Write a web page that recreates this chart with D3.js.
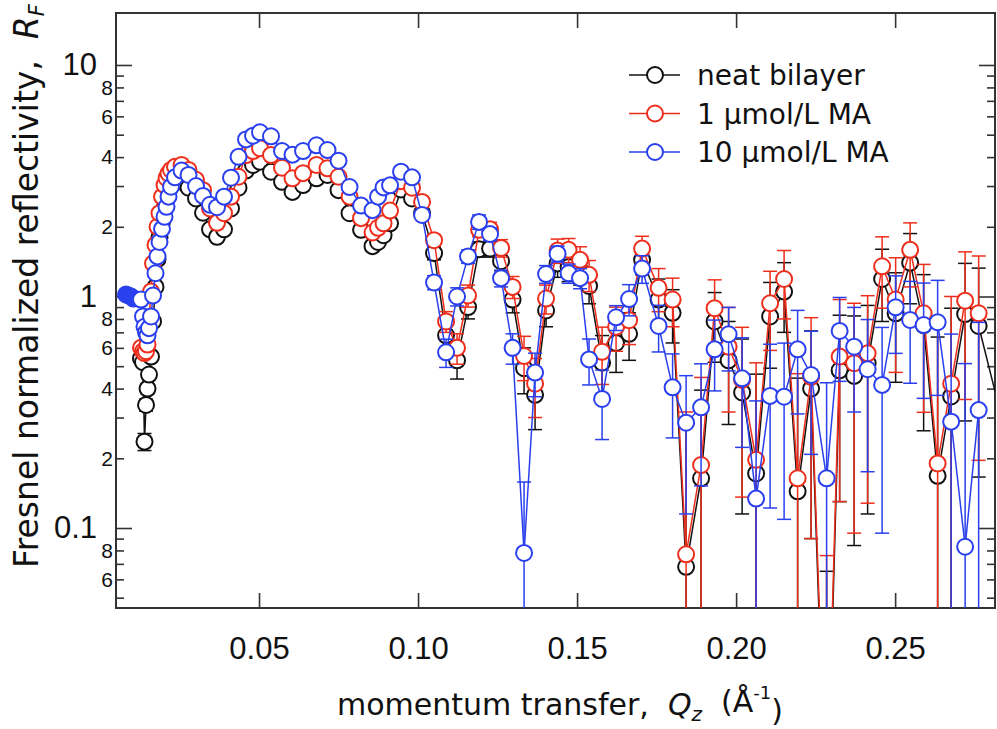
<!DOCTYPE html>
<meta charset="utf-8">
<script src="https://d3js.org/d3.v7.min.js"></script>

<style>
body { margin: 0; background: #fff; }
svg { display: block; font-family: 'DejaVu Sans', sans-serif; }
text { fill: #111; white-space: pre; }
.tick line { stroke: #333; stroke-width: 1.6; }
.frame { fill: none; stroke: #333; stroke-width: 2; }
.major text { font-size: 31px; }
.minor text { font-size: 21px; }
.xaxis text { font-size: 31px; }
.ytitle { font-size: 33px; }
.xtitle { font-size: 30px; }
.legend text { font-size: 28px; }
</style>

<svg width="997" height="729"></svg>

<script>
// momentum transfer Qz (1/A), shared grid for the three curves
const qz = [0.01289, 0.01352, 0.01399, 0.01447, 0.01494, 0.01541, 0.01604, 0.01667, 0.01745, 0.01808,
  0.01871, 0.01950, 0.02028, 0.02091, 0.02154, 0.02233, 0.02358, 0.02563, 0.02783, 0.03019,
  0.03239, 0.03459, 0.03679, 0.03899, 0.04119, 0.04355, 0.04591, 0.04811, 0.05031, 0.05377,
  0.05723, 0.06053, 0.06384, 0.06808, 0.07154, 0.07500, 0.07846, 0.08208, 0.08569, 0.08742,
  0.08915, 0.09119, 0.09465, 0.09811, 0.10126, 0.10503, 0.10881, 0.11226, 0.11572, 0.11918,
  0.12264, 0.12610, 0.12972, 0.13333, 0.13679, 0.14025, 0.14387, 0.14733, 0.15094, 0.15377,
  0.15786, 0.16226, 0.16635, 0.17044, 0.17563, 0.18003, 0.18428, 0.18899, 0.19324, 0.19764,
  0.20189, 0.20629, 0.21069, 0.21509, 0.21934, 0.22358, 0.22846, 0.23255, 0.23711, 0.24135,
  0.24591, 0.25016, 0.25472, 0.25896, 0.26336, 0.26761, 0.27201, 0.27626, 0.28460];

// neat bilayer
const rNeat = [0.54, 0.52, 0.236, 0.34, 0.40, 0.46, 0.55, 0.78, 1.10, 1.45,
  1.80, 2.10, 2.40, 2.65, 2.85, 3.00, 3.10, 3.15, 2.95, 2.65,
  2.30, 1.95, 1.81, 1.95, 2.40, 2.95, 3.50, 3.70, 3.82, 3.46,
  3.13, 2.83, 3.03, 3.24, 3.35, 2.88, 2.29, 1.94, 1.65, 1.72,
  1.84, 2.07, 2.90, 2.65, 2.30, 1.54, 0.68, 0.53, 0.90, 1.60,
  1.61, 1.42, 0.97, 0.49, 0.376, 0.87, 1.39, 1.34, 1.30, 1.11,
  0.518, 0.63, 0.69, 1.44, 0.97, 0.85, 0.068, 0.164, 0.78, 0.53,
  0.385, 0.172, 0.82, 1.05, 0.144, 0.40, 0.005, 0.48, 0.454, 0.515,
  1.19, 0.846, 1.40, 0.753, 0.168, 0.37, 0.84, 0.746, 0.26];
const eNeat = [0.02, 0.02, 0.02, 0.02, 0.02, 0.02, 0.02, 0.03, 0.03, 0.03,
  0.04, 0.04, 0.05, 0.05, 0.05, 0.05, 0.06, 0.06, 0.06, 0.06,
  0.06, 0.06, 0.06, 0.06, 0.06, 0.07, 0.07, 0.07, 0.08, 0.07,
  0.07, 0.07, 0.07, 0.08, 0.08, 0.08, 0.07, 0.07, 0.08, 0.08,
  0.08, 0.08, 0.10, 0.10, 0.10, 0.10, 0.08, 0.09, 0.10, 0.12,
  0.13, 0.13, 0.12, 0.11, 0.11, 0.13, 0.18, 0.18, 0.18, 0.18,
  0.16, 0.16, 0.16, 0.20, 0.22, 0.22, 0.22, 0.23, 0.26, 0.25,
  0.27, 0.29, 0.33, 0.35, 0.30, 0.31, 0.06, 0.35, 0.37, 0.40,
  0.41, 0.42, 0.47, 0.49, 0.50, 0.52, 0.55, 0.58, 0.60];

// 1 umol/L MA
const rMA1 = [0.60, 0.58, 0.57, 0.58, 0.62, 0.80, 1.05, 1.39, 1.67, 2.00,
  2.29, 2.70, 3.03, 3.25, 3.40, 3.52, 3.63, 3.70, 3.52, 3.19,
  2.88, 2.40, 2.08, 2.29, 2.70, 3.29, 4.08, 4.25, 4.37, 4.08,
  3.60, 3.24, 3.41, 3.70, 3.58, 3.29, 2.70, 2.18, 1.89, 1.98,
  2.07, 2.35, 3.15, 2.95, 2.56, 1.75, 0.78, 0.60, 1.01, 1.94,
  1.95, 1.62, 1.10, 0.553, 0.42, 0.98, 1.58, 1.59, 1.44, 1.24,
  0.577, 0.74, 0.79, 1.61, 1.09, 0.97, 0.077, 0.187, 0.89, 0.607,
  0.436, 0.197, 0.935, 1.19, 0.164, 0.45, 0.006, 0.55, 0.515, 0.568,
  1.35, 0.97, 1.59, 0.846, 0.19, 0.42, 0.959, 0.846, null];
const eMA1 = [0.02, 0.02, 0.02, 0.02, 0.02, 0.02, 0.03, 0.03, 0.03, 0.04,
  0.04, 0.05, 0.05, 0.05, 0.06, 0.06, 0.06, 0.06, 0.06, 0.06,
  0.06, 0.06, 0.06, 0.06, 0.06, 0.07, 0.07, 0.08, 0.08, 0.08,
  0.08, 0.07, 0.07, 0.08, 0.08, 0.08, 0.08, 0.07, 0.08, 0.08,
  0.08, 0.09, 0.10, 0.10, 0.10, 0.10, 0.08, 0.09, 0.11, 0.13,
  0.14, 0.14, 0.12, 0.12, 0.12, 0.14, 0.19, 0.19, 0.20, 0.19,
  0.16, 0.16, 0.17, 0.21, 0.23, 0.23, 0.24, 0.26, 0.29, 0.29,
  0.30, 0.32, 0.35, 0.39, 0.30, 0.36, 0.07, 0.42, 0.42, 0.44,
  0.46, 0.50, 0.49, 0.53, 0.55, 0.58, 0.60, 0.65, null];

// 10 umol/L MA
const rMA10 = [0.97, 0.82, 0.74, 0.70, 0.68, 0.73, 0.82, 1.01, 1.26, 1.49,
  1.72, 1.96, 2.21, 2.44, 2.70, 2.98, 3.27, 3.50, 3.35, 3.00,
  2.72, 2.49, 2.43, 2.70, 3.26, 4.01, 4.77, 4.95, 5.12, 4.92,
  4.25, 4.10, 4.25, 4.50, 4.29, 3.86, 2.97, 2.47, 2.36, 2.70,
  2.96, 3.02, 3.46, 3.27, 2.25, 1.15, 0.574, 1.00, 1.49, 2.10,
  1.86, 1.20, 0.60, 0.078, 0.469, 1.25, 1.53, 1.26, 1.20, 0.535,
  0.361, 0.813, 0.975, 1.32, 0.746, 0.405, 0.285, 0.332, 0.591, 0.687,
  0.443, 0.134, 0.372, 0.369, 0.591, 0.458, 0.164, 0.71, 0.607, 0.485,
  0.415, 0.898, 0.792, 0.753, 0.774, 0.288, 0.083, 0.323, null];
const eMA10 = [0.02, 0.02, 0.02, 0.02, 0.02, 0.02, 0.02, 0.03, 0.03, 0.03,
  0.04, 0.04, 0.05, 0.05, 0.05, 0.06, 0.06, 0.06, 0.06, 0.06,
  0.06, 0.06, 0.06, 0.06, 0.07, 0.07, 0.08, 0.08, 0.08, 0.08,
  0.08, 0.08, 0.08, 0.08, 0.08, 0.08, 0.08, 0.07, 0.07, 0.08,
  0.08, 0.08, 0.09, 0.09, 0.08, 0.08, 0.08, 0.09, 0.10, 0.15,
  0.12, 0.10, 0.09, 0.08, 0.10, 0.11, 0.12, 0.12, 0.12, 0.12,
  0.12, 0.10, 0.15, 0.18, 0.17, 0.16, 0.17, 0.18, 0.20, 0.21,
  0.22, 0.22, 0.25, 0.26, 0.28, 0.25, 0.26, 0.28, 0.29, 0.31,
  0.32, 0.33, 0.37, 0.39, 0.40, 0.40, 0.43, 0.45, null];

// filled points below the critical edge (10 umol/L MA)
const qzFilled = [0.00818, 0.00896, 0.00975, 0.01053];
const rFilled = [1.02, 1.01, 1.00, 0.98];

const seriesNames = ['neat bilayer', '1 \u03bcmol/L MA', '10 \u03bcmol/L MA'];
const seriesColors = ['#111111', '#ee2e1c', '#2a40ee'];

const majorTicks = [0.1, 1, 10];
const majorLabels = ['0.1', '1', '10'];
const minorTicks = [0.05, 0.06, 0.07, 0.08, 0.09, 0.2, 0.3, 0.4, 0.5, 0.6, 0.7, 0.8, 0.9,
  2, 3, 4, 5, 6, 7, 8, 9];
const minorLabels = ['', '6', '', '8', '', '2', '', '4', '', '6', '', '8', '',
  '2', '', '4', '', '6', '', '8', ''];
const xTicks = [0.05, 0.10, 0.15, 0.20, 0.25];
const xLabels = ['0.05', '0.10', '0.15', '0.20', '0.25'];

const svg = d3.select('svg');
const pLeft = 116, pRight = 995, pTop = 13, pBottom = 608;

const x = d3.scaleLinear().domain([0.00503, 0.2814]).range([pLeft, pRight]);
const y = d3.scaleLog().domain([0.04513, 16.77]).range([pBottom, pTop]);

svg.append('clipPath').attr('id', 'plotclip')
  .append('rect')
  .attr('x', pLeft).attr('y', pTop)
  .attr('width', pRight - pLeft).attr('height', pBottom - pTop);

// axes, ticks pointing inward
function yAxes(values, labels, size, pad, cls) {
  svg.append('g').attr('class', cls)
    .attr('transform', `translate(${pLeft},0)`)
    .call(d3.axisLeft(y).tickValues(values).tickSize(-size).tickPadding(pad)
      .tickFormat((d, i) => labels[i]))
    .call(g => g.select('.domain').remove());
  svg.append('g').attr('class', cls)
    .attr('transform', `translate(${pRight},0)`)
    .call(d3.axisRight(y).tickValues(values).tickSize(-size).tickFormat(''))
    .call(g => g.select('.domain').remove());
}
yAxes(minorTicks, minorLabels, 8, 3, 'minor');
yAxes(majorTicks, majorLabels, 16, 19, 'major');

svg.append('g').attr('class', 'xaxis')
  .attr('transform', `translate(0,${pBottom})`)
  .call(d3.axisBottom(x).tickValues(xTicks).tickSize(-15).tickPadding(29)
    .tickFormat((d, i) => xLabels[i]))
  .call(g => g.select('.domain').remove());

svg.append('g').attr('class', 'xaxis')
  .attr('transform', `translate(0,${pTop})`)
  .call(d3.axisTop(x).tickValues(xTicks).tickSize(-15).tickFormat(''))
  .call(g => g.select('.domain').remove());

svg.selectAll('.tick text').attr('fill', '#111');

svg.append('rect').attr('class', 'frame')
  .attr('x', pLeft).attr('y', pTop)
  .attr('width', pRight - pLeft).attr('height', pBottom - pTop);

// data
const allR = [rNeat, rMA1, rMA10];
const allE = [eNeat, eMA1, eMA10];
const plot = svg.append('g').attr('clip-path', 'url(#plotclip)');

const line = d3.line()
  .defined(d => d.r != null)
  .x(d => x(d.q))
  .y(d => y(d.r));

allR.forEach((rs, k) => {
  const col = seriesColors[k];
  let pts = qz.map((q, i) => ({ q: q, r: rs[i], e: allE[k][i] }));
  const g = plot.append('g');

  let linePts = pts;
  if (k === 2) {
    linePts = qzFilled.map((q, i) => ({ q: q, r: rFilled[i] })).concat(pts);
  }
  g.append('path')
    .attr('d', line(linePts))
    .attr('fill', 'none')
    .attr('stroke', col)
    .attr('stroke-width', 1.5);

  const withErr = pts.filter(d => d.r != null && d.e != null);
  const lo = d => (d.r - d.e > 0 ? y(d.r - d.e) : pBottom + 40);
  g.selectAll('.bar').data(withErr).enter().append('line')
    .attr('x1', d => x(d.q)).attr('x2', d => x(d.q))
    .attr('y1', d => y(d.r + d.e)).attr('y2', lo)
    .attr('stroke', col).attr('stroke-width', 1.5);
  g.selectAll('.capt').data(withErr).enter().append('line')
    .attr('x1', d => x(d.q) - 7).attr('x2', d => x(d.q) + 7)
    .attr('y1', d => y(d.r + d.e)).attr('y2', d => y(d.r + d.e))
    .attr('stroke', col).attr('stroke-width', 1.5);
  g.selectAll('.capb').data(withErr).enter().append('line')
    .attr('x1', d => x(d.q) - 7).attr('x2', d => x(d.q) + 7)
    .attr('y1', lo).attr('y2', lo)
    .attr('stroke', col).attr('stroke-width', 1.5);

  if (k === 2) {
    g.selectAll('.filled').data(qzFilled).enter().append('circle')
      .attr('cx', d => x(d)).attr('cy', (d, i) => y(rFilled[i]))
      .attr('r', 8).attr('fill', col).attr('stroke', col).attr('stroke-width', 2);
  }

  g.selectAll('.pt').data(pts.filter(d => d.r != null)).enter().append('circle')
    .attr('cx', d => x(d.q)).attr('cy', d => y(d.r))
    .attr('r', 8)
    .attr('fill', '#fff')
    .attr('stroke', col)
    .attr('stroke-width', 2);
});

// legend
const legend = svg.append('g').attr('class', 'legend');
seriesNames.forEach((name, k) => {
  const ly = 75 + k * 38.5;
  legend.append('line')
    .attr('x1', 629).attr('x2', 680).attr('y1', ly).attr('y2', ly)
    .attr('stroke', seriesColors[k]).attr('stroke-width', 1.5);
  legend.append('circle')
    .attr('cx', 655).attr('cy', ly).attr('r', 8)
    .attr('fill', '#fff').attr('stroke', seriesColors[k]).attr('stroke-width', 2);
  legend.append('text')
    .attr('x', 697).attr('y', ly + 10)
    .text(name);
});

// axis titles
const yt = svg.append('text')
  .attr('class', 'ytitle')
  .attr('text-anchor', 'middle')
  .attr('transform', 'translate(38,286) rotate(-90)');
yt.append('tspan').text('Fresnel normalized reflectivity,  ');
yt.append('tspan').attr('font-style', 'italic').text('R');
yt.append('tspan').attr('font-style', 'italic').attr('font-size', '21px').attr('dy', '0.3em').text('F');

const xt = svg.append('text')
  .attr('class', 'xtitle')
  .attr('text-anchor', 'middle')
  .attr('x', 560).attr('y', 715);
xt.append('tspan').text('momentum transfer,  ');
xt.append('tspan').attr('font-style', 'italic').text('Q');
xt.append('tspan').attr('font-style', 'italic').attr('font-size', '20px').attr('dy', '0.3em').text('z');
xt.append('tspan').attr('dy', '-0.3em').text('  (\u00c5');
xt.append('tspan').attr('font-size', '18px').attr('dy', '-0.75em').text('-1');
xt.append('tspan').attr('dy', '0.75em').text(')');
</script>
